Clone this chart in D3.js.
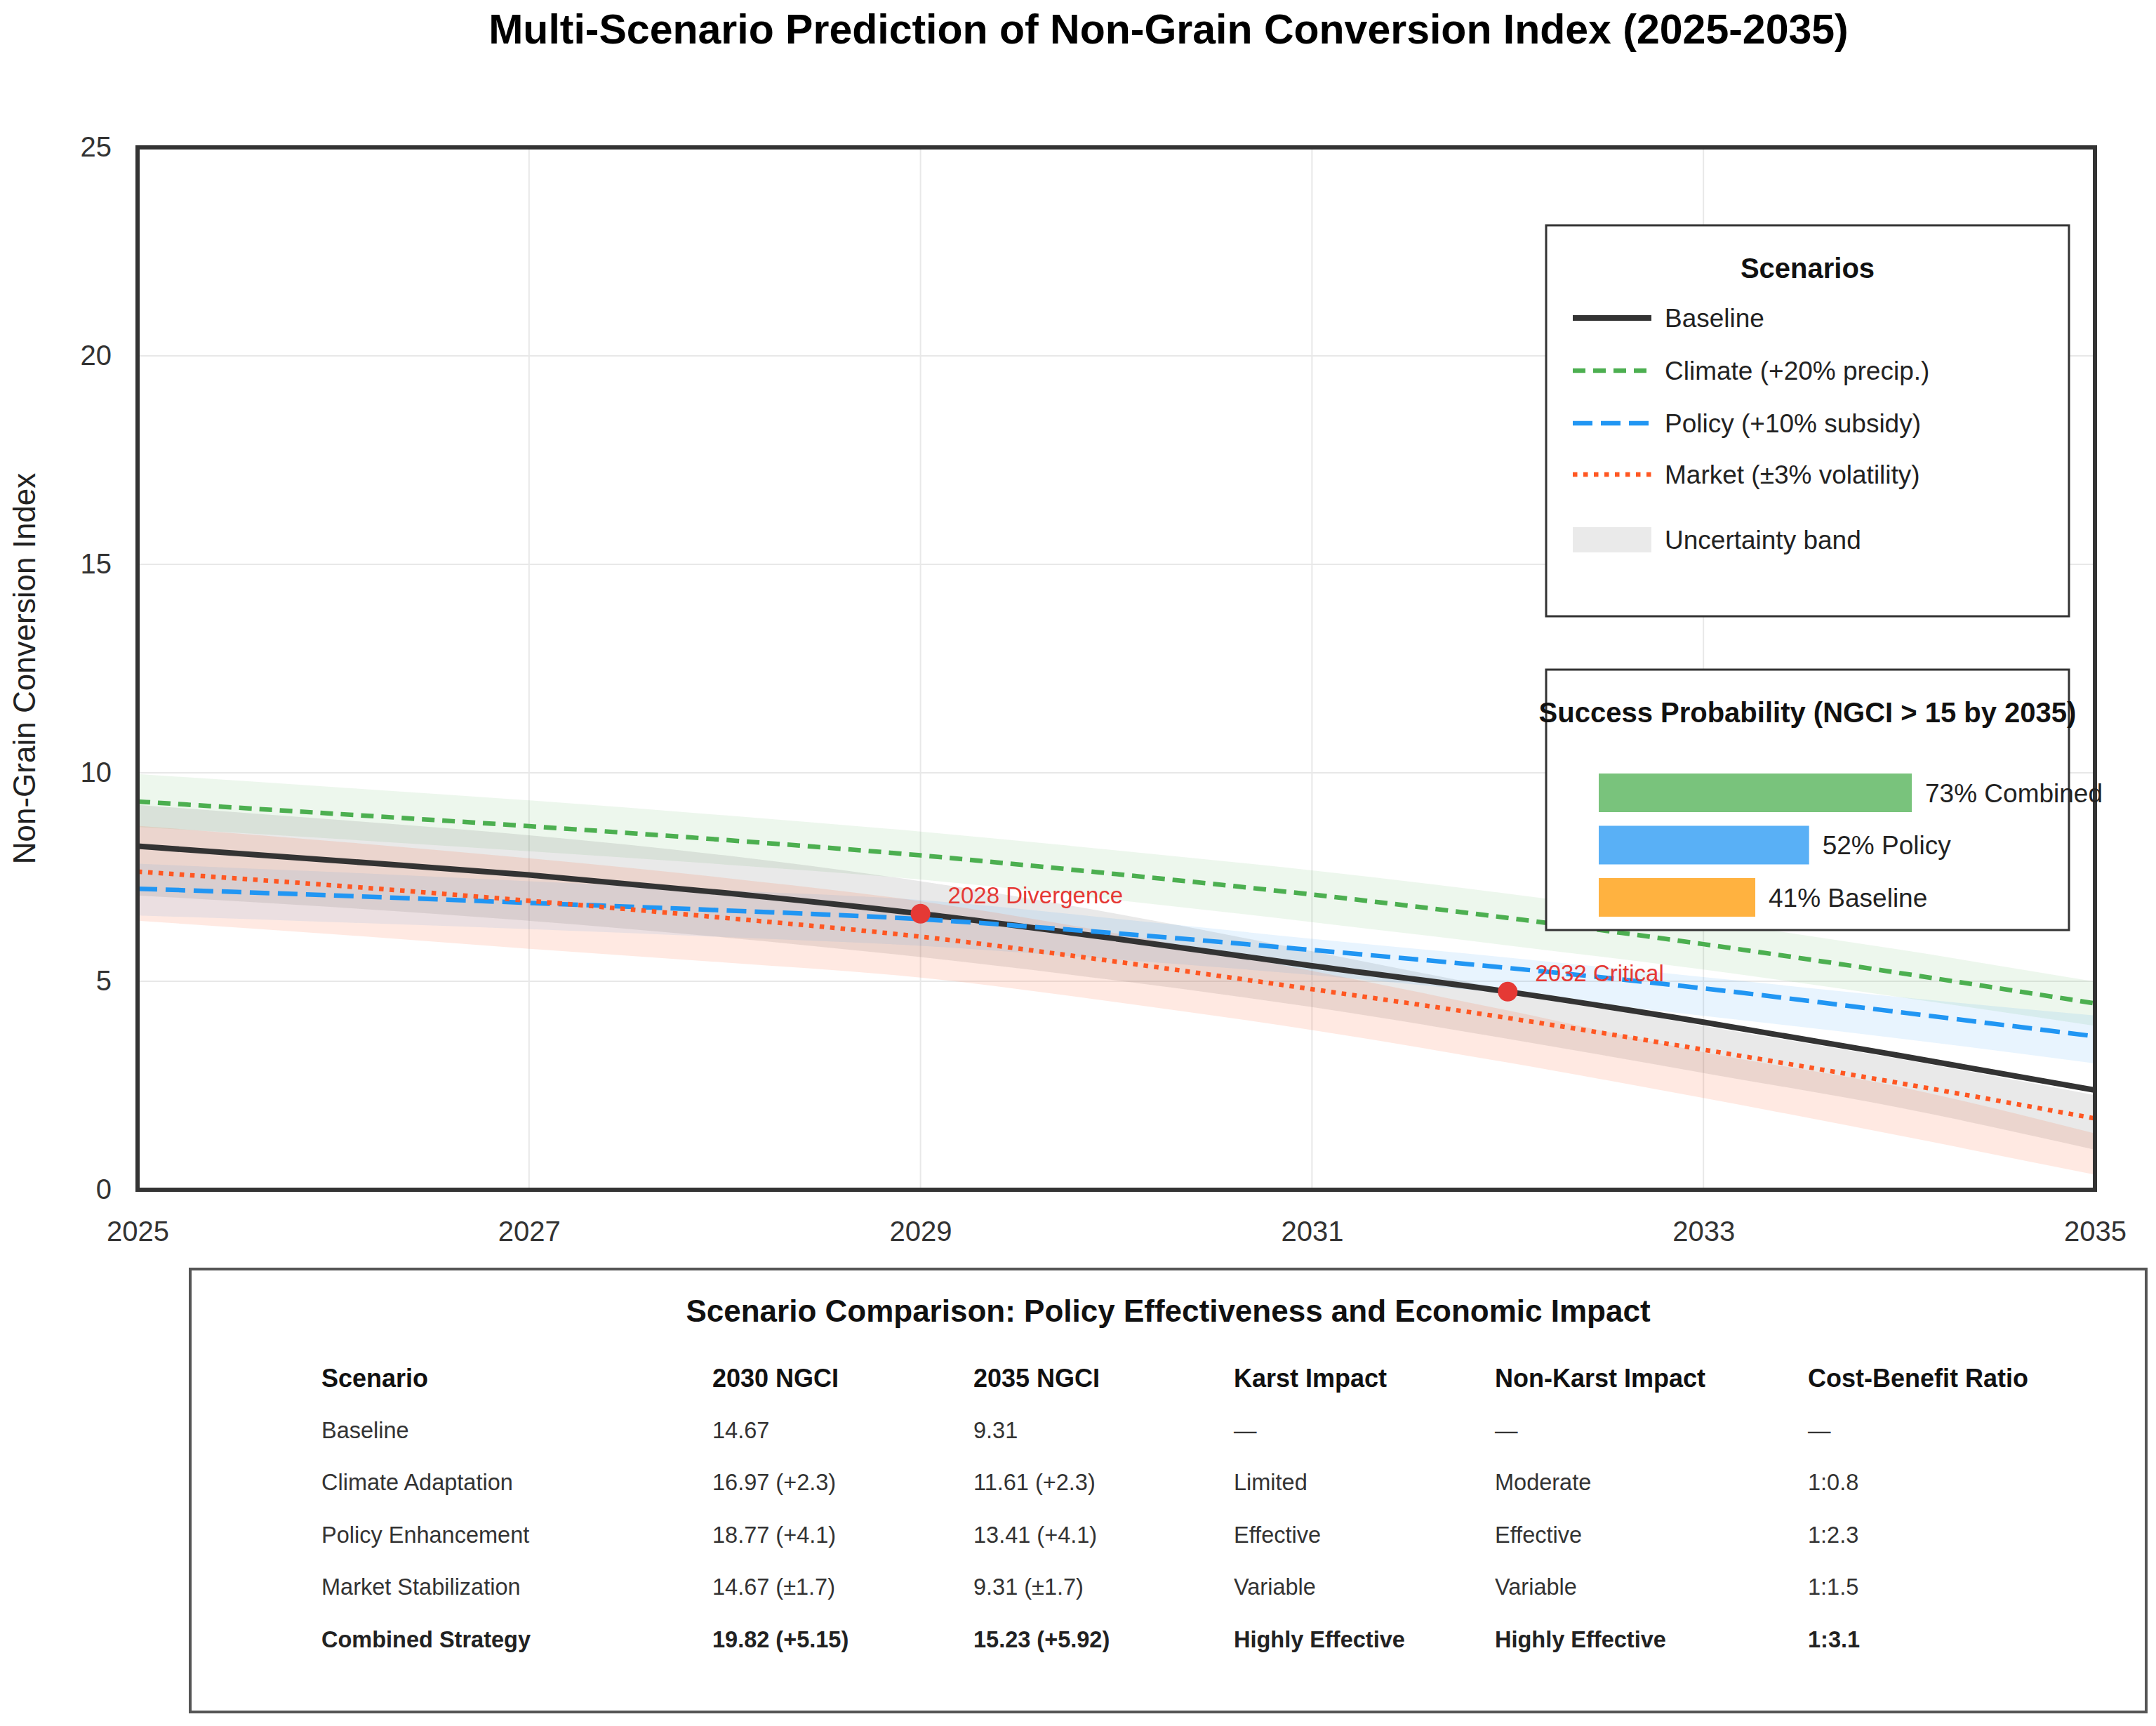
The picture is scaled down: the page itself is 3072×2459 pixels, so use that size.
<!DOCTYPE html>
<html>
<head>
<meta charset="utf-8">
<script src="https://cdn.jsdelivr.net/npm/d3@7"></script>
<style>
  html, body { margin: 0; padding: 0; background: #ffffff; }
  svg { display: block; }
  text { font-family: "Liberation Sans", Arial, Helvetica, sans-serif; }
</style>
</head>
<body>
<script>
// ---------------- DATA ----------------
const years = [2025, 2026, 2027, 2028, 2029, 2030, 2031, 2032, 2033, 2034, 2035];

const baselineValues = [8.24, 7.90, 7.55, 7.12, 6.62, 6.02, 5.37, 4.75, 4.02, 3.22, 2.39];
const climateValues  = [9.31, 9.02, 8.72, 8.39, 8.02, 7.57, 7.08, 6.52, 5.89, 5.20, 4.47];
const policyValues   = [7.22, 7.06, 6.88, 6.70, 6.49, 6.15, 5.75, 5.32, 4.83, 4.26, 3.68];
const marketValues   = [7.63, 7.30, 6.93, 6.52, 6.07, 5.47, 4.81, 4.12, 3.36, 2.56, 1.71];

const climateLow  = [8.70, 8.42, 8.12, 7.80, 7.44, 6.95, 6.42, 5.86, 5.28, 4.62, 3.93];
const climateHigh = [9.97, 9.66, 9.34, 8.98, 8.59, 8.14, 7.66, 7.10, 6.46, 5.76, 4.99];
const baselineLow  = [7.06, 6.78, 6.45, 6.05, 5.58, 5.02, 4.38, 3.62, 2.80, 1.97, 0.96];
const baselineHigh = [9.23, 8.88, 8.50, 8.02, 7.40, 6.62, 5.72, 4.80, 3.93, 3.14, 2.27];
const policyLow  = [6.58, 6.42, 6.25, 6.06, 5.85, 5.52, 5.15, 4.70, 4.17, 3.63, 3.03];
const policyHigh = [7.82, 7.62, 7.40, 7.18, 6.95, 6.50, 6.02, 5.57, 5.10, 4.62, 4.18];
const marketLow  = [6.45, 6.13, 5.78, 5.45, 5.09, 4.50, 3.83, 3.05, 2.20, 1.30, 0.36];
const marketHigh = [8.73, 8.36, 7.95, 7.48, 6.92, 6.15, 5.25, 4.30, 3.30, 2.47, 1.35];

const xTickValues = [2025, 2027, 2029, 2031, 2033, 2035];
const yTickValues = [0, 5, 10, 15, 20, 25];

const scenarioNames = ["Baseline", "Climate (+20% precip.)", "Policy (+10% subsidy)", "Market (±3% volatility)"];
const bandLabel = "Uncertainty band";

const keyYears  = [2029, 2032];
const keyLabels = ["2028 Divergence", "2032 Critical"];

const probLabels = ["Combined", "Policy", "Baseline"];
const probValues = [73, 52, 41];

const tableHeaders = ["Scenario", "2030 NGCI", "2035 NGCI", "Karst Impact", "Non-Karst Impact", "Cost-Benefit Ratio"];
const tableRows = [
  ["Baseline", "14.67", "9.31", "—", "—", "—"],
  ["Climate Adaptation", "16.97 (+2.3)", "11.61 (+2.3)", "Limited", "Moderate", "1:0.8"],
  ["Policy Enhancement", "18.77 (+4.1)", "13.41 (+4.1)", "Effective", "Effective", "1:2.3"],
  ["Market Stabilization", "14.67 (±1.7)", "9.31 (±1.7)", "Variable", "Variable", "1:1.5"],
  ["Combined Strategy", "19.82 (+5.15)", "15.23 (+5.92)", "Highly Effective", "Highly Effective", "1:3.1"]
];

// ---------------- LAYOUT ----------------
const W = 3072, H = 2459;
const P = { left: 196, right: 2985, top: 210, bottom: 1695 };

const svg = d3.select("body").append("svg")
  .attr("width", W).attr("height", H)
  .attr("viewBox", `0 0 ${W} ${H}`);
svg.append("rect").attr("width", W).attr("height", H).attr("fill", "#ffffff");

const x = d3.scaleLinear().domain([2025, 2035]).range([P.left, P.right]);
const y = d3.scaleLinear().domain([0, 25]).range([P.bottom, P.top]);

// title
svg.append("text")
  .attr("x", 1665).attr("y", 62)
  .attr("text-anchor", "middle")
  .attr("font-size", 59).attr("font-weight", "bold").attr("fill", "#000")
  .text("Multi-Scenario Prediction of Non-Grain Conversion Index (2025-2035)");

// clip
svg.append("defs").append("clipPath").attr("id", "plotClip")
  .append("rect").attr("x", P.left).attr("y", P.top)
  .attr("width", P.right - P.left).attr("height", P.bottom - P.top);

// grid
const grid = svg.append("g");
grid.selectAll("line.v").data(xTickValues).enter().append("line")
  .attr("x1", d => x(d)).attr("x2", d => x(d))
  .attr("y1", P.top).attr("y2", P.bottom)
  .attr("stroke", "#e8e8e8").attr("stroke-width", 2);
grid.selectAll("line.h").data(yTickValues).enter().append("line")
  .attr("x1", P.left).attr("x2", P.right)
  .attr("y1", d => y(d)).attr("y2", d => y(d))
  .attr("stroke", "#e8e8e8").attr("stroke-width", 2);

const plot = svg.append("g").attr("clip-path", "url(#plotClip)");

const curve = d3.curveMonotoneX;
function bandPath(lo, hi) {
  return d3.area()
    .x((d, i) => x(years[i]))
    .y0((d, i) => y(lo[i]))
    .y1((d, i) => y(hi[i]))
    .curve(curve)(years);
}
function linePath(vals) {
  return d3.line()
    .x((d, i) => x(years[i]))
    .y((d, i) => y(vals[i]))
    .curve(curve)(years);
}

// bands
const bands = [
  { lo: climateLow,  hi: climateHigh,  color: "#4CAF50", op: 0.10 },
  { lo: baselineLow, hi: baselineHigh, color: "#333333", op: 0.11 },
  { lo: policyLow,   hi: policyHigh,   color: "#2196F3", op: 0.10 },
  { lo: marketLow,   hi: marketHigh,   color: "#FF5722", op: 0.13 }
];
bands.forEach(b => {
  plot.append("path").attr("d", bandPath(b.lo, b.hi))
    .attr("fill", b.color).attr("fill-opacity", b.op).attr("stroke", "none");
});

// lines
const styles = [
  { vals: baselineValues, color: "#333333", w: 8,   dash: null },
  { vals: climateValues,  color: "#4CAF50", w: 6.5, dash: "18,11" },
  { vals: policyValues,   color: "#2196F3", w: 6.5, dash: "28,12" },
  { vals: marketValues,   color: "#FF5722", w: 6.5, dash: "6.5,8.5" }
];
styles.forEach(s => {
  plot.append("path").attr("d", linePath(s.vals))
    .attr("fill", "none").attr("stroke", s.color)
    .attr("stroke-width", s.w)
    .attr("stroke-dasharray", s.dash)
    .attr("stroke-linecap", "butt").attr("stroke-linejoin", "round");
});

// key points
keyYears.forEach((yr, k) => {
  const v = baselineValues[years.indexOf(yr)];
  svg.append("circle").attr("cx", x(yr)).attr("cy", y(v)).attr("r", 14)
    .attr("fill", "#E53935");
  svg.append("text").attr("x", x(yr) + 39).attr("y", y(v) - 26 + 11.5)
    .attr("font-size", 33).attr("fill", "#E53935").text(keyLabels[k]);
});

// frame
svg.append("rect").attr("x", P.left).attr("y", P.top)
  .attr("width", P.right - P.left).attr("height", P.bottom - P.top)
  .attr("fill", "none").attr("stroke", "#333333").attr("stroke-width", 6);

// axes
const xAxis = svg.append("g").attr("transform", `translate(0,${P.bottom})`)
  .call(d3.axisBottom(x).tickValues(xTickValues).tickFormat(d3.format("d")).tickSize(0).tickPadding(45));
const yAxis = svg.append("g").attr("transform", `translate(${P.left},0)`)
  .call(d3.axisLeft(y).tickValues(yTickValues).tickSize(0).tickPadding(37));
[xAxis, yAxis].forEach(a => {
  a.select(".domain").remove();
  a.selectAll("text").attr("font-size", 40).attr("fill", "#333")
    .attr("font-family", "'Liberation Sans', Arial, sans-serif");
});

// y label
svg.append("text")
  .attr("transform", `translate(50,${(P.top + P.bottom) / 2}) rotate(-90)`)
  .attr("text-anchor", "middle").attr("font-size", 44).attr("fill", "#222")
  .text("Non-Grain Conversion Index");

// ---------------- Scenario legend ----------------
const L = { x: 2203, y: 321, w: 745, h: 557 };
svg.append("rect").attr("x", L.x).attr("y", L.y).attr("width", L.w).attr("height", L.h)
  .attr("fill", "#ffffff").attr("stroke", "#333").attr("stroke-width", 3);
svg.append("text").attr("x", L.x + L.w / 2).attr("y", 396)
  .attr("text-anchor", "middle").attr("font-size", 40).attr("font-weight", "bold")
  .attr("fill", "#111").text("Scenarios");
const legRowY = [453, 528, 603, 676];
styles.forEach((s, i) => {
  svg.append("line").attr("x1", 2241).attr("x2", 2353)
    .attr("y1", legRowY[i]).attr("y2", legRowY[i])
    .attr("stroke", s.color).attr("stroke-width", s.w)
    .attr("stroke-dasharray", s.dash);
  svg.append("text").attr("x", 2372).attr("y", legRowY[i] + 13)
    .attr("font-size", 37).attr("fill", "#222").text(scenarioNames[i]);
});
svg.append("rect").attr("x", 2241).attr("y", 751).attr("width", 112).attr("height", 36)
  .attr("fill", "#333333").attr("fill-opacity", 0.1);
svg.append("text").attr("x", 2372).attr("y", 769 + 13)
  .attr("font-size", 37).attr("fill", "#222").text(bandLabel);

// ---------------- Success probability ----------------
const S = { x: 2203, y: 954, w: 745, h: 371 };
svg.append("rect").attr("x", S.x).attr("y", S.y).attr("width", S.w).attr("height", S.h)
  .attr("fill", "#ffffff").attr("stroke", "#333").attr("stroke-width", 3);
svg.append("text").attr("x", S.x + S.w / 2).attr("y", 1029)
  .attr("text-anchor", "middle").attr("font-size", 40).attr("font-weight", "bold")
  .attr("fill", "#111").text("Success Probability (NGCI > 15 by 2035)");
const barScale = d3.scaleLinear().domain([0, 100]).range([2215.3, 2912.2]);
const barStart = 2278;
const barY = d3.scaleLinear().domain([0, 2]).range([1102, 1251]);
const probColors = ["#4CAF50", "#2196F3", "#FF9800"];
probValues.forEach((v, i) => {
  svg.append("rect").attr("x", barStart).attr("y", barY(i))
    .attr("width", barScale(v) - barStart).attr("height", 55)
    .attr("fill", probColors[i]).attr("fill-opacity", 0.75);
  svg.append("text").attr("x", barScale(v) + 19).attr("y", barY(i) + 27.5 + 13)
    .attr("font-size", 37).attr("fill", "#222").text(`${v}% ${probLabels[i]}`);
});

// ---------------- Table ----------------
const T = { x: 271, y: 1808, w: 2787, h: 631 };
svg.append("rect").attr("x", T.x).attr("y", T.y).attr("width", T.w).attr("height", T.h)
  .attr("fill", "#ffffff").attr("stroke", "#555").attr("stroke-width", 4);
svg.append("text").attr("x", T.x + T.w / 2).attr("y", 1883)
  .attr("text-anchor", "middle").attr("font-size", 44).attr("font-weight", "bold")
  .attr("fill", "#111").text("Scenario Comparison: Policy Effectiveness and Economic Impact");
const colX = [458, 1015, 1387, 1758, 2130, 2576];
tableHeaders.forEach((h, j) => {
  svg.append("text").attr("x", colX[j]).attr("y", 1963 + 13)
    .attr("font-size", 36).attr("font-weight", "bold").attr("fill", "#111").text(h);
});
const rowY = d3.scaleLinear().domain([0, tableRows.length - 1]).range([2037, 2335]);
tableRows.forEach((row, i) => {
  const last = i === tableRows.length - 1;
  row.forEach((cell, j) => {
    svg.append("text").attr("x", colX[j]).attr("y", rowY(i) + 11.5)
      .attr("font-size", 32.5)
      .attr("font-weight", last ? "bold" : "normal")
      .attr("fill", last ? "#222" : "#333").text(cell);
  });
});
</script>
</body>
</html>
